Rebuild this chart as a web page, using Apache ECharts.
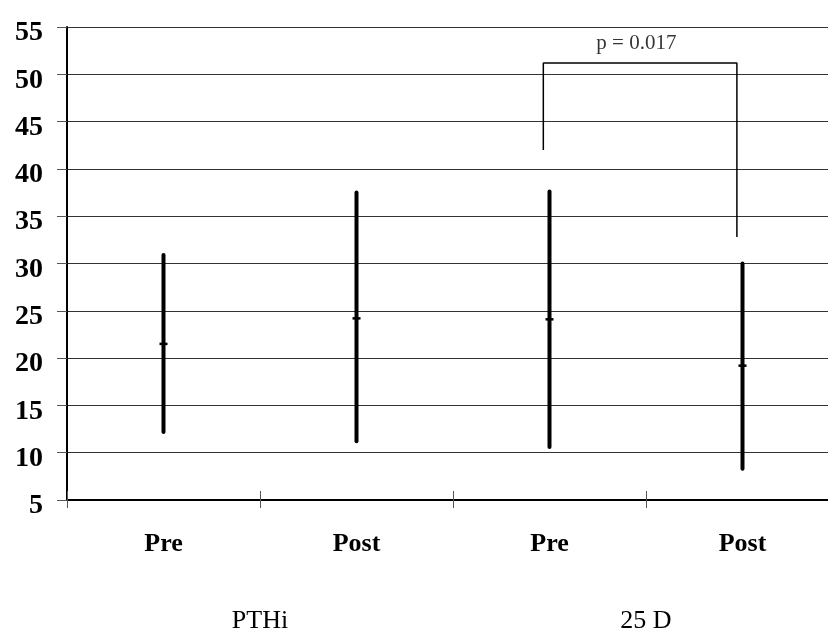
<!DOCTYPE html>
<html>
<head>
<meta charset="utf-8">
<script src="https://cdn.jsdelivr.net/npm/echarts@6/dist/echarts.min.js"></script>
<style>
html,body{margin:0;padding:0;background:#fff;}
#chart{width:828px;height:630px;}
</style>
</head>
<body>
<div id="chart"></div>
<script>
// ---- data ----
const categories = ['Pre', 'Post', 'Pre', 'Post'];
const groups = ['PTHi', '25 D'];
const lows = [12.2, 11.2, 10.6, 8.3];
const highs = [30.9, 37.5, 37.6, 30.0];
const means = [21.5, 24.2, 24.1, 19.2];
const yTicks = [5, 10, 15, 20, 25, 30, 35, 40, 45, 50, 55];
// significance bracket (x in category units on 0..4 scale, y in data units)
const bracketX = [2.468, 2.468, 3.471, 3.471];
const bracketY = [42.0, 51.2, 51.2, 32.8];
const pLabel = 'p = 0.017';
const pLabelPos = [2.95, 53.3];

const serif = "'Liberation Serif','Times New Roman',serif";

const barData = categories.map((c, i) => [i, lows[i], highs[i], means[i]]);
const bracketData = bracketX.map((x, i) => [x, bracketY[i]]);

const chart = echarts.init(document.getElementById('chart'), null, {renderer: 'canvas'});
chart.setOption({
  animation: false,
  backgroundColor: '#fff',
  grid: {left: 67, top: 27, width: 772, height: 473, containLabel: false, outerBoundsMode: 'none'},
  xAxis: [
    {
      type: 'category', data: categories, gridIndex: 0, position: 'bottom',
      axisLine: {show: true, lineStyle: {color: '#000', width: 2}},
      axisTick: {show: true, length: 8, lineStyle: {color: '#555', width: 1}},
      axisLabel: {interval: 0, margin: 31, color: '#000', fontFamily: serif, fontWeight: 'bold', fontSize: 26},
      splitLine: {show: false}
    },
    {
      type: 'category', data: groups, gridIndex: 0, position: 'bottom',
      axisLine: {show: false}, axisTick: {show: false},
      axisLabel: {interval: 0, margin: 108, color: '#000', fontFamily: serif, fontSize: 26},
      splitLine: {show: false}
    },
    {
      type: 'value', min: 0, max: 4, gridIndex: 0, show: false
    },
    {
      type: 'category', data: categories, gridIndex: 0, position: 'bottom',
      axisLine: {show: false},
      axisTick: {show: true, inside: true, length: 9, lineStyle: {color: '#555', width: 1}},
      axisLabel: {show: false},
      splitLine: {show: false}
    }
  ],
  yAxis: {
    type: 'value', min: yTicks[0], max: yTicks[yTicks.length - 1], interval: 5,
    axisLine: {show: true, lineStyle: {color: '#000', width: 2}},
    axisTick: {show: true, length: 10, lineStyle: {color: '#555', width: 1}},
    axisLabel: {margin: 24, verticalAlign: 'top', lineHeight: 12, color: '#000', fontFamily: serif, fontWeight: 'bold', fontSize: 28},
    splitLine: {show: true, lineStyle: {color: '#333', width: 1}}
  },
  series: [
    {
      type: 'custom',
      xAxisIndex: 0,
      data: barData,
      renderItem: function (params, api) {
        const lo = api.coord([api.value(0), api.value(1)]);
        const hi = api.coord([api.value(0), api.value(2)]);
        const mn = api.coord([api.value(0), api.value(3)]);
        return {
          type: 'group',
          children: [
            {type: 'line', shape: {x1: lo[0], y1: lo[1], x2: hi[0], y2: hi[1]},
             style: {stroke: '#000', lineWidth: 4, lineCap: 'round'}},
            {type: 'line', shape: {x1: mn[0] - 4, y1: mn[1], x2: mn[0] + 4, y2: mn[1]},
             style: {stroke: '#000', lineWidth: 2.5}}
          ]
        };
      },
      z: 5
    },
    {
      type: 'line',
      xAxisIndex: 2,
      data: bracketData,
      symbol: 'none',
      lineStyle: {color: '#000', width: 1.5},
      z: 4
    },
    {
      type: 'scatter',
      xAxisIndex: 2,
      data: [pLabelPos],
      symbolSize: 0,
      label: {show: true, position: 'inside', formatter: pLabel, color: '#000', fontFamily: serif, fontSize: 21}
    }
  ]
});
</script>
</body>
</html>
